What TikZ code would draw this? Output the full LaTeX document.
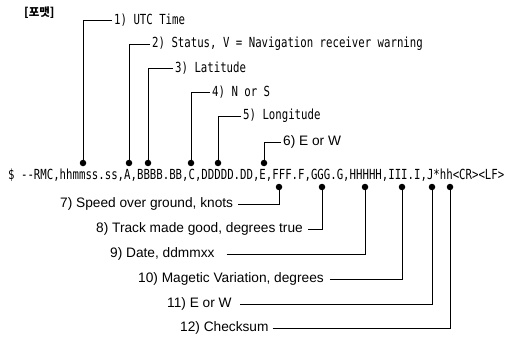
\documentclass[tikz,border=0pt]{standalone}
\usepackage{fontspec}
\newfontfamily\myMono[FakeStretch=0.77]{DejaVu Sans Mono}
\newfontfamily\myArial{Liberation Sans}
\newfontfamily\myKr{Noto Sans CJK KR}
\begin{document}
\begin{tikzpicture}[x=1pt,y=-1pt,
  dotn/.style={circle,fill=black,inner sep=0pt,minimum size=6.5pt},
  toplab/.style={anchor=west,inner xsep=2pt,inner ysep=0pt,font=\myMono\fontsize{13.9}{15}\selectfont},
  arlab/.style={inner xsep=0pt,inner ysep=0pt,font=\myArial\fontsize{13.7}{16}\selectfont},
  conn/.style={draw=black,line width=0.9pt}]
\useasboundingbox (0,0) rectangle (520,337);
\node[anchor=west,inner sep=0pt,font=\myKr\bfseries\fontsize{11.5}{13}\selectfont] (fmt) at (24,13) {[포맷]};
% sentence
\node[anchor=west,inner sep=0pt,font=\myMono\fontsize{13.9}{15}\selectfont] (sent) at (8,175)
  {\$ --RMC,hhmmss.ss,A,BBBB.BB,C,DDDDD.DD,E,FFF.F,GGG.G,HHHHH,III.I,J*hh<CR><LF>};
% top dots
\node[dotn] (d1) at (83,163) {};
\node[dotn] (d2) at (129,163) {};
\node[dotn] (d3) at (148,163) {};
\node[dotn] (d4) at (191,163) {};
\node[dotn] (d5) at (218,163) {};
\node[dotn] (d6) at (264,163) {};
% bottom dots
\node[dotn] (d7) at (279,187) {};
\node[dotn] (d8) at (322,187) {};
\node[dotn] (d9) at (365,187) {};
\node[dotn] (d10) at (402,187) {};
\node[dotn] (d11) at (432,187) {};
\node[dotn] (d12) at (450,187) {};
% top labels
\node[toplab] (l1) at (112,20) {1) UTC Time};
\node[toplab] (l2) at (150,44) {2) Status, V = Navigation receiver warning};
\node[toplab] (l3) at (173,68) {3) Latitude};
\node[toplab] (l4) at (210,92) {4) N or S};
\node[toplab] (l5) at (241,116) {5) Longitude};
\node[arlab,anchor=west,inner xsep=2pt] (l6) at (281,142) {6) E or W};
% bottom labels
\node[arlab,anchor=west] (l7) at (60,204) {7) Speed over ground, knots};
\node[arlab,anchor=west] (l8) at (96,229) {8) Track made good, degrees true};
\node[arlab,anchor=west] (l9) at (110,254) {9) Date, ddmmxx};
\node[arlab,anchor=west] (l10) at (138,279) {10) Magetic Variation, degrees};
\node[arlab,anchor=west] (l11) at (167,304) {11) E or W};
\node[arlab,anchor=west] (l12) at (180,328) {12) Checksum};
% connectors
\draw[conn] (l1.west) -| (d1);
\draw[conn] (l2.west) -| (d2);
\draw[conn] (l3.west) -| (d3);
\draw[conn] (l4.west) -| (d4);
\draw[conn] (l5.west) -| (d5);
\draw[conn] (l6.west) -| (d6);
\draw[conn] ([xshift=5pt]l7.east) -| (d7);
\draw[conn] ([xshift=5pt]l8.east) -| (d8);
\draw[conn] ([xshift=12pt]l9.east) -| (d9);
\draw[conn] ([xshift=6pt]l10.east) -| (d10);
\draw[conn] ([xshift=8pt]l11.east) -| (d11);
\draw[conn] ([xshift=4pt]l12.east) -| (d12);
\end{tikzpicture}
\end{document}
